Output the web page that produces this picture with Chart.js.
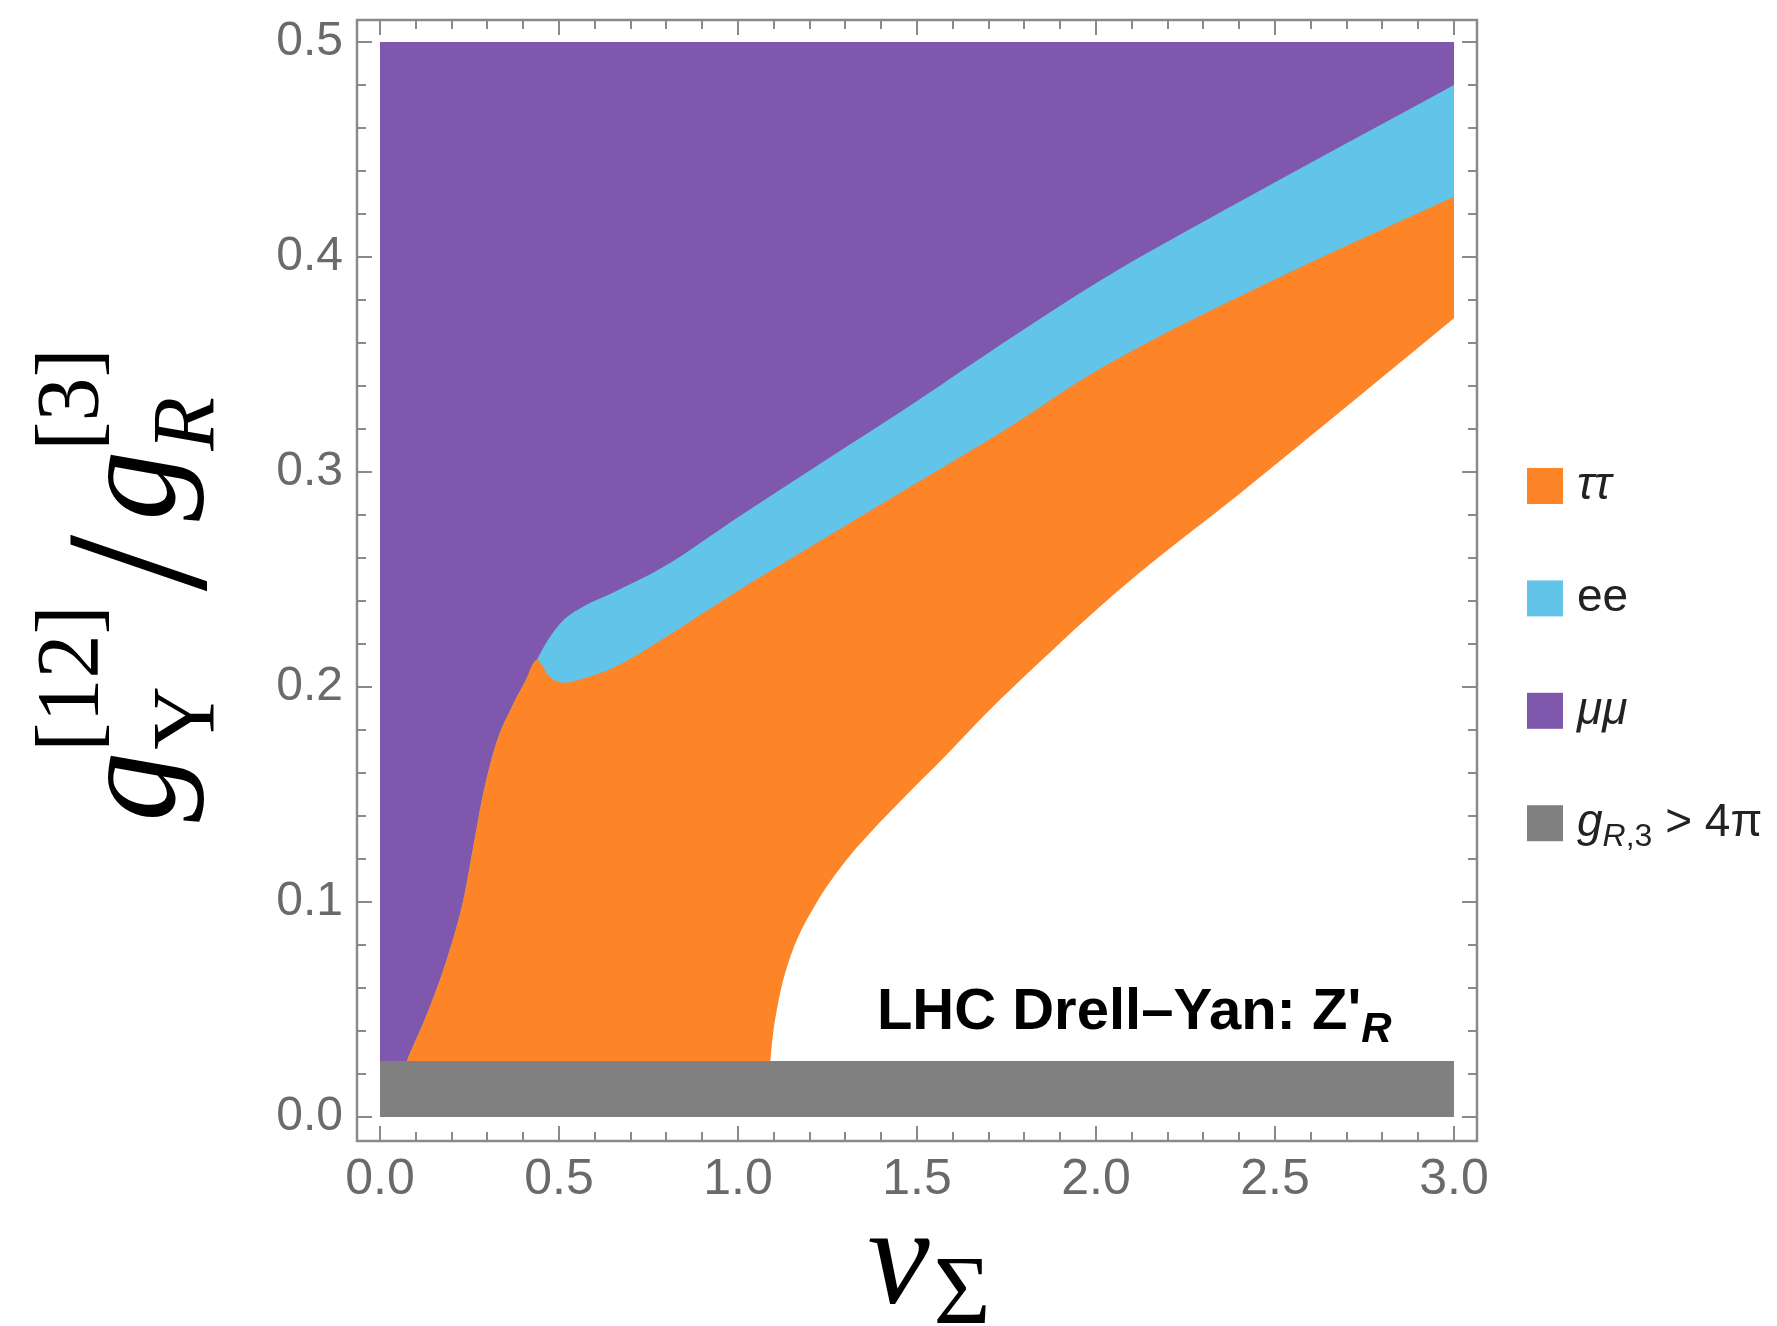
<!DOCTYPE html>
<html>
<head>
<meta charset="utf-8">
<script src="https://cdn.jsdelivr.net/npm/chart.js@4.4.0/dist/chart.umd.min.js"></script>
<style>
  html, body { margin: 0; padding: 0; background: #fff; }
  #wrap { width: 1777px; height: 1326px; }
</style>
</head>
<body>
<div id="wrap"><canvas id="drellYan" width="1777" height="1326"></canvas></div>
<script>
// left edge of the excluded region (mu mu above, tau tau below), up to where the ee band starts
const edgeX = [0.0745, 0.14, 0.186, 0.233, 0.261, 0.289, 0.326, 0.372, 0.405, 0.438];
const edgeY = [0.026, 0.0516, 0.073, 0.101, 0.126, 0.151, 0.1745, 0.192, 0.2025, 0.2126];

// upper edge of the ee band
const eeTopX = [0.466, 0.512, 0.568, 0.652, 0.791, 1.0, 1.25, 1.5, 1.75, 2.011, 2.41, 3.0];
const eeTopY = [0.221, 0.231, 0.2375, 0.244, 0.2558, 0.279, 0.306, 0.333, 0.361, 0.389, 0.4265, 0.48];

// lower edge of the ee band, i.e. upper edge of tau tau
const tauTopX = [0.475, 0.512, 0.568, 0.652, 0.791, 0.978, 1.2, 1.5, 1.75, 2.011, 2.467, 3.0];
const tauTopY = [0.2045, 0.202, 0.204, 0.209, 0.2225, 0.2425, 0.265, 0.295, 0.32, 0.348, 0.387, 0.428];

// lower edge of tau tau; below it nothing is excluded
const openX = [1.09, 1.097, 1.117, 1.151, 1.219, 1.30, 1.368, 1.463, 1.571, 1.693, 1.842, 1.978, 2.113, 2.402, 3.0];
const openY = [0.026, 0.0374, 0.057, 0.0767, 0.0995, 0.119, 0.132, 0.1485, 0.1665, 0.1877, 0.2115, 0.2325, 0.252, 0.290, 0.3715];

const gR3Limit = 0.026;   // g_R,3 > 4 pi below this
const xEnds = [0, 3];
const yMax = 0.5;

const xMajor = [0, 0.5, 1, 1.5, 2, 2.5, 3];
const xTickLabels = ['0.0', '0.5', '1.0', '1.5', '2.0', '2.5', '3.0'];
const yMajor = [0, 0.1, 0.2, 0.3, 0.4, 0.5];
const yTickLabels = ['0.0', '0.1', '0.2', '0.3', '0.4', '0.5'];

const seriesLabels = ['ττ', 'ee', 'μμ', 'g_R,3 > 4π'];
const seriesColors = ['#fd8427', '#62c4e8', '#7f58ad', '#808080'];

const pts = (xs, ys) => xs.map((v, i) => ({ x: v, y: ys[i] }));

// minor ticks: 4 between each pair of majors
function withMinors(majors) {
  const out = [];
  for (let i = 0; i < majors.length - 1; i++) {
    const step = (majors[i + 1] - majors[i]) / 5;
    for (let k = 0; k < 5; k++) out.push({ v: majors[i] + k * step, major: k === 0 });
  }
  out.push({ v: majors[majors.length - 1], major: true });
  return out;
}

const region = (label, color, data, order) => ({
  label: label,
  data: data,
  backgroundColor: color,
  borderWidth: 0,
  pointRadius: 0,
  fill: { value: 0 },
  cubicInterpolationMode: 'monotone',
  order: order
});

// draw a run of text pieces, each with its own font and baseline shift
function drawPieces(ctx, pieces, x, y) {
  pieces.forEach(p => {
    ctx.font = p.font;
    ctx.fillText(p.t, x, y + (p.dy || 0));
    x += ctx.measureText(p.t).width + (p.gap || 0);
  });
  return x;
}

function piecesWidth(ctx, pieces) {
  let w = 0;
  pieces.forEach(p => { ctx.font = p.font; w += ctx.measureText(p.t).width + (p.gap || 0); });
  return w;
}

const decorations = {
  id: 'decorations',
  afterDraw(chart) {
    const { ctx, chartArea: a, scales: { x, y } } = chart;
    ctx.save();

    // frame
    ctx.strokeStyle = '#8a8a8a';
    ctx.lineWidth = 2.5;
    ctx.strokeRect(a.left, a.top, a.right - a.left, a.bottom - a.top);

    // ticks pointing inward on every side
    ctx.lineWidth = 2;
    ctx.beginPath();
    withMinors(xMajor).forEach(t => {
      const px = Math.round(x.getPixelForValue(t.v));
      const len = t.major ? 15 : 9;
      ctx.moveTo(px, a.bottom); ctx.lineTo(px, a.bottom - len);
      ctx.moveTo(px, a.top); ctx.lineTo(px, a.top + len);
    });
    withMinors(yMajor).forEach(t => {
      const py = Math.round(y.getPixelForValue(t.v));
      const len = t.major ? 15 : 9;
      ctx.moveTo(a.left, py); ctx.lineTo(a.left + len, py);
      ctx.moveTo(a.right, py); ctx.lineTo(a.right - len, py);
    });
    ctx.stroke();

    // note inside the plot
    ctx.fillStyle = '#000';
    ctx.textBaseline = 'alphabetic';
    ctx.textAlign = 'left';
    drawPieces(ctx, [
      { t: 'LHC Drell\u2013Yan: Z\'', font: 'bold 58px "Liberation Sans"' },
      { t: 'R', font: 'italic bold 42px "Liberation Sans"', dy: 13 }
    ], x.getPixelForValue(1.388), y.getPixelForValue(0.0407));

    // legend
    const legTop = 468, legStep = 112.4, sw = 36;
    const legText = [
      [{ t: 'ττ', font: 'italic 46px "Liberation Sans"' }],
      [{ t: 'ee', font: '46px "Liberation Sans"' }],
      [{ t: 'μμ', font: 'italic 46px "Liberation Sans"' }],
      [{ t: 'g', font: 'italic 46px "Liberation Sans"' },
       { t: 'R', font: 'italic 32px "Liberation Sans"', dy: 10 },
       { t: ',3', font: '32px "Liberation Sans"', dy: 10 },
       { t: ' > 4π', font: '46px "Liberation Sans"' }]
    ];
    seriesLabels.forEach((lab, i) => {
      const top = legTop + i * legStep;
      ctx.fillStyle = seriesColors[i];
      ctx.fillRect(1527, top, sw, sw);
      ctx.fillStyle = '#222';
      drawPieces(ctx, legText[i], 1577, top + sw / 2 + 13);
    });

    // x axis title
    ctx.fillStyle = '#000';
    const xTitle = [
      { t: 'v', font: 'italic 140px "Liberation Serif"', gap: 4 },
      { t: 'Σ', font: '98px "Liberation Serif"', dy: 20 }
    ];
    const xtw = piecesWidth(ctx, xTitle);
    drawPieces(ctx, xTitle, 929 - xtw / 2, 1303);

    // y axis title, rotated to read bottom to top
    const f = 140;
    const mainF = f + 'px "Liberation Serif"';
    const supF = '88px "Liberation Serif"';
    const slashF = '203px "Liberation Serif"';
    ctx.save();
    ctx.translate(174, 585);
    ctx.rotate(-Math.PI / 2);
    ctx.font = 'italic ' + mainF;
    const gW = ctx.measureText('g').width;
    ctx.font = supF;
    const w12 = ctx.measureText('[12]').width, w3 = ctx.measureText('[3]').width;
    ctx.font = slashF;
    const slashW = ctx.measureText('/').width;
    const gap = 14;
    const total = gW + w12 + gap + slashW + gap + gW + w3;
    let cx = -total / 2;
    ctx.font = 'italic ' + mainF;
    ctx.fillText('g', cx, 0);
    cx += gW;
    ctx.font = supF;
    ctx.fillText('[12]', cx, -0.55 * f);
    ctx.fillText('Y', cx + 2, 0.28 * f);
    cx += w12 + gap;
    ctx.font = slashF;
    ctx.fillText('/', cx, 31);
    cx += slashW + gap;
    ctx.font = 'italic ' + mainF;
    ctx.fillText('g', cx, 0);
    cx += gW;
    ctx.font = supF;
    ctx.fillText('[3]', cx, -0.55 * f);
    ctx.font = 'italic ' + supF;
    ctx.fillText('R', cx, 0.28 * f);
    ctx.restore();

    ctx.restore();
  }
};

new Chart(document.querySelector('#drellYan'), {
  type: 'line',
  data: {
    datasets: [
      region(seriesLabels[0], seriesColors[0], pts(edgeX, edgeY).concat(pts(tauTopX, tauTopY)), 2),
      region(seriesLabels[1], seriesColors[1], pts(edgeX, edgeY).concat(pts(eeTopX, eeTopY)), 3),
      region(seriesLabels[2], seriesColors[2], pts(xEnds, [yMax, yMax]), 4),
      region(seriesLabels[3], seriesColors[3], pts(xEnds, [gR3Limit, gR3Limit]), 0),
      region('', '#ffffff', pts(openX, openY), 1)
    ]
  },
  options: {
    responsive: false,
    animation: false,
    layout: { padding: { left: 0, top: 20, right: 300, bottom: 0 } },
    plugins: { legend: { display: false }, tooltip: { enabled: false } },
    scales: {
      x: {
        type: 'linear',
        min: -0.06425,
        max: 3.06425,
        afterFit: s => { s.height = 185; s.paddingLeft = 0; s.paddingRight = 0; },
        afterBuildTicks: s => { s.ticks = xMajor.map(v => ({ value: v })); },
        grid: { display: false, drawTicks: false },
        border: { display: false },
        ticks: {
          padding: 9,
          color: '#6a6a6a',
          autoSkip: false,
          maxRotation: 0,
          font: { family: 'Liberation Sans', size: 50 },
          callback: (v, i) => xTickLabels[i]
        }
      },
      y: {
        type: 'linear',
        min: -0.011163,
        max: 0.51024,
        afterFit: s => { s.width = 357; s.paddingTop = 0; s.paddingBottom = 0; },
        afterBuildTicks: s => { s.ticks = yMajor.map(v => ({ value: v })); },
        grid: { display: false, drawTicks: false },
        border: { display: false },
        ticks: {
          padding: 14,
          color: '#6a6a6a',
          autoSkip: false,
          font: { family: 'Liberation Sans', size: 48 },
          callback: (v, i) => yTickLabels[i]
        }
      }
    }
  },
  plugins: [decorations]
});
</script>
</body>
</html>
